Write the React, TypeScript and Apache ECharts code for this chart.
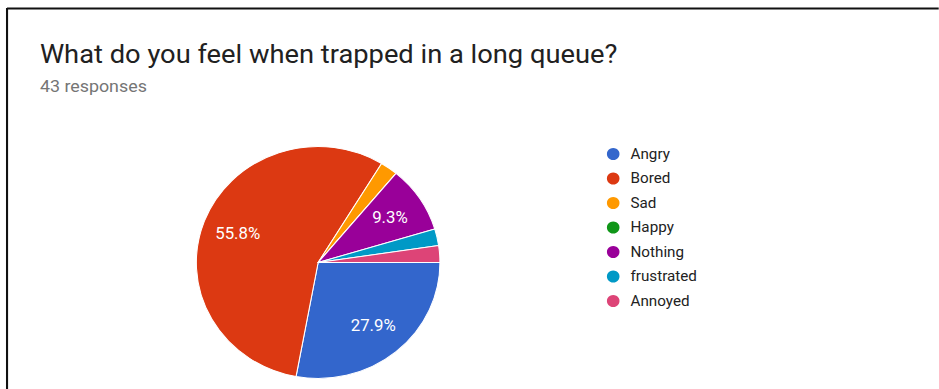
import React, { useEffect, useRef } from "react";
import * as echarts from "echarts";

const title = "What do you feel when trapped in a long queue?";
const subtitle = "43 responses";
const categories = ["Angry", "Bored", "Sad", "Happy", "Nothing", "frustrated", "Annoyed"];
const counts = [12, 24, 1, 0, 4, 1, 1];
const colors = ["#3366cc", "#dc3912", "#ff9900", "#109618", "#990099", "#0099c6", "#dd4477"];

const SX = 1.05;
const W = 939 / SX;
const H = 389;

export default function App() {
  const ref = useRef<HTMLDivElement>(null);
  useEffect(() => {
    if (!ref.current) return;
    const chart = echarts.init(ref.current, undefined, { renderer: "svg" });
    const data = categories.map((name, i) => ({ name, value: counts[i] }));
    const center = [303, 262.5];
    chart.setOption({
      animation: false,
      color: colors,
      textStyle: { fontFamily: "Roboto" },
      title: [
        {
          text: title,
          left: 33,
          top: 36,
          textStyle: { fontSize: 26, fontWeight: "normal", color: "#212121", fontFamily: "Roboto" },
        },
        {
          text: subtitle,
          left: 33,
          top: 73,
          textStyle: { fontSize: 17, fontWeight: "normal", color: "#757575", fontFamily: "Roboto" },
        },
      ],
      legend: {
        orient: "vertical",
        left: 571,
        top: 141,
        icon: "circle",
        itemWidth: 15,
        itemHeight: 14,
        itemGap: 8.5,
        data: categories,
        textStyle: { fontSize: 14.5, color: "#222222", fontFamily: "Roboto", padding: [0, 0, 0, 4] },
      },
      graphic: [
        {
          type: "line",
          shape: { x1: 6.7, y1: 8.5, x2: W + 10, y2: 8.5 },
          style: { stroke: "#111", lineWidth: 2 },
        },
        {
          type: "line",
          shape: { x1: 6.7, y1: 8, x2: 6.7, y2: H + 10 },
          style: { stroke: "#111", lineWidth: 2 },
        },
      ],
      series: [
        {
          type: "pie",
          center,
          radius: 116,
          startAngle: 0,
          clockwise: true,
          data,
          label: { show: false },
          labelLine: { show: false },
          itemStyle: { borderColor: "#ffffff", borderWidth: 1 },
          emphasis: { disabled: true },
          silent: true,
        },
        {
          type: "pie",
          center,
          radius: 158,
          startAngle: 0,
          clockwise: true,
          data,
          itemStyle: { color: "rgba(0,0,0,0)", borderWidth: 0 },
          label: {
            show: true,
            position: "inside",
            color: "#ffffff",
            fontSize: 16,
            fontFamily: "Roboto",
            formatter: (p: any) => (p.percent >= 5 ? p.percent.toFixed(1) + "%" : ""),
          },
          labelLine: { show: false },
          emphasis: { disabled: true },
          silent: true,
        },
      ],
    });
    return () => chart.dispose();
  }, []);
  return (
    <div
      style={{
        position: "fixed",
        left: 0,
        top: 0,
        width: 939,
        height: 389,
        overflow: "hidden",
        background: "#ffffff",
      }}
    >
      <div
        ref={ref}
        style={{
          width: W,
          height: H,
          transform: `scaleX(${SX})`,
          transformOrigin: "0 0",
        }}
      />
    </div>
  );
}
